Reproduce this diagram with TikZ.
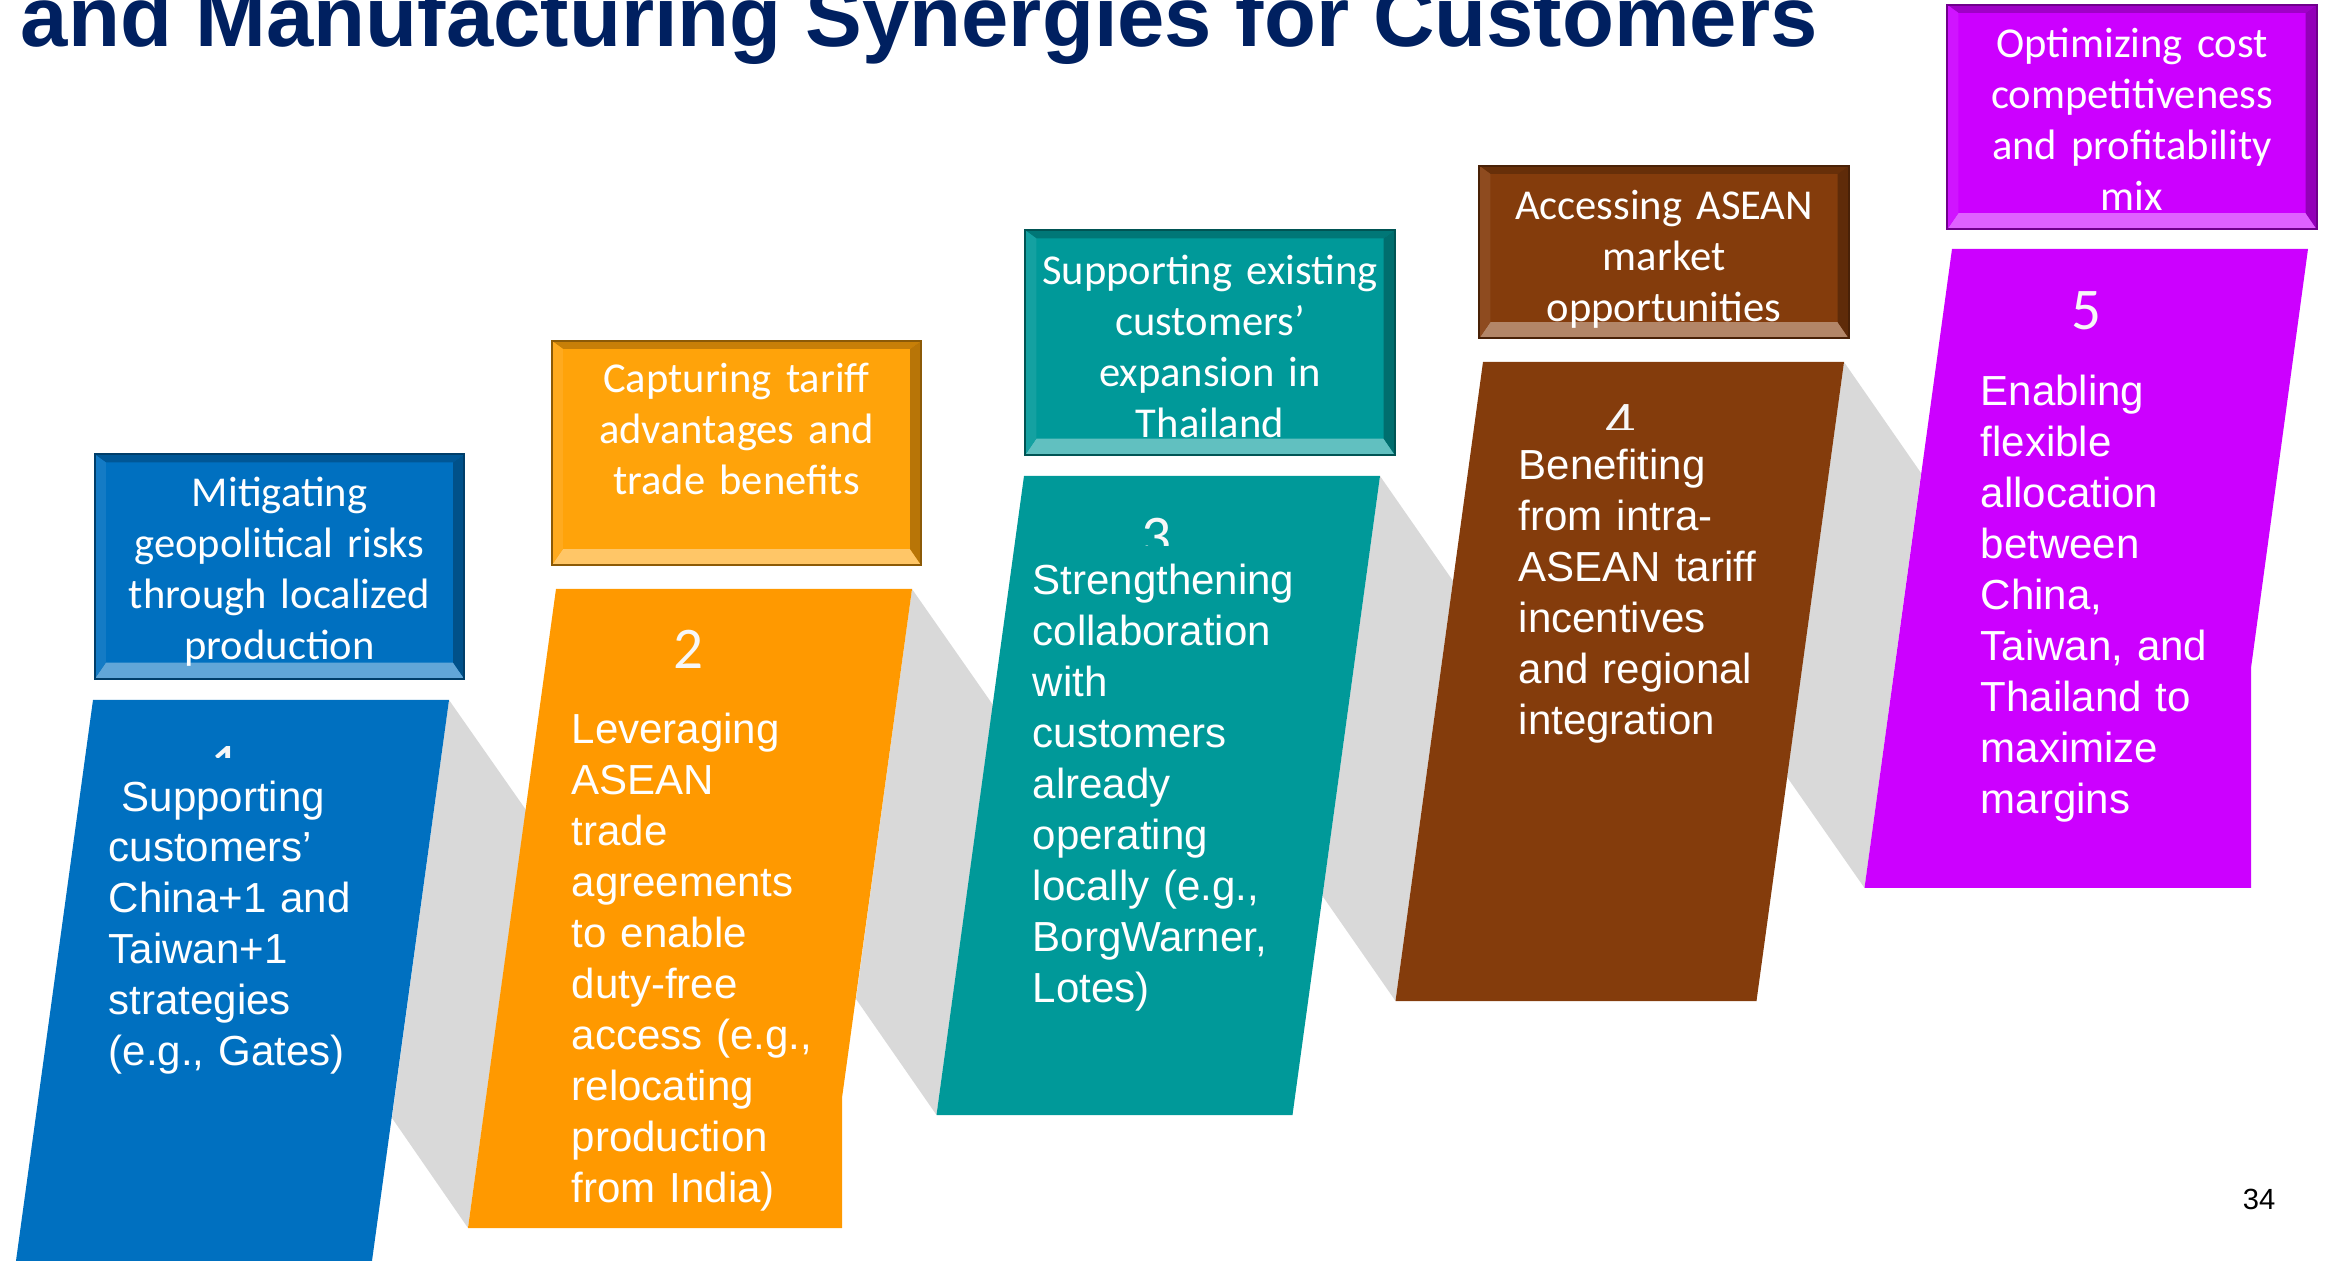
\documentclass[tikz,border=0pt]{standalone}
\usepackage{fontspec}
\setmainfont{Liberation Sans}
\newfontfamily\boxfont{Carlito}
\definecolor{stepblue}{HTML}{0070C0}
\definecolor{steporange}{HTML}{FF9900}
\definecolor{boxorange}{HTML}{FFA30A}
\definecolor{stepteal}{HTML}{009999}
\definecolor{stepbrown}{HTML}{843C0C}
\definecolor{stepmagenta}{HTML}{CC00FF}
\definecolor{ribbongray}{HTML}{D9D9D9}
\definecolor{titlenavy}{HTML}{002060}
\def\boxstrut#1{\rule{0pt}{#1}}
\tikzset{
	ribbon/.style={fill=ribbongray},
	bodytext/.style={anchor=base west, inner sep=0pt, text width=4cm, align=left, text=white, font=\fontsize{11.95pt}{14.5pt}\selectfont},
	stepnum/.style={inner sep=0pt, text=white!94!gray, font=\boxfont\fontsize{16.8pt}{20pt}\selectfont},
	topbox/.style={draw=#1!55!black, line width=0.6pt, fill=#1, inner sep=0pt,
		minimum width=3.69cm, minimum height=2.24cm, text width=3.5cm, align=center,
		text=white, font=\boxfont\fontsize{12.1pt}{14.5pt}\selectfont,
		path picture={
			\fill[#1!78!black] (path picture bounding box.north west) -- (path picture bounding box.north east)
				-- ([xshift=-0.11cm,yshift=-0.08cm]path picture bounding box.north east) -- ([xshift=0.11cm,yshift=-0.08cm]path picture bounding box.north west) -- cycle;
			\fill[#1!62!white] (path picture bounding box.south west) -- (path picture bounding box.south east)
				-- ([xshift=-0.11cm,yshift=0.16cm]path picture bounding box.south east) -- ([xshift=0.11cm,yshift=0.16cm]path picture bounding box.south west) -- cycle;
			\fill[#1!92!white] (path picture bounding box.north west) -- ([xshift=0.11cm,yshift=-0.08cm]path picture bounding box.north west)
				-- ([xshift=0.11cm,yshift=0.16cm]path picture bounding box.south west) -- (path picture bounding box.south west) -- cycle;
			\fill[#1!72!black] (path picture bounding box.north east) -- ([xshift=-0.11cm,yshift=-0.08cm]path picture bounding box.north east)
				-- ([xshift=-0.11cm,yshift=0.16cm]path picture bounding box.south east) -- (path picture bounding box.south east) -- cycle;
		}}
}

\begin{document}
\begin{tikzpicture}[x=0.01cm, y=-0.01cm]
	\useasboundingbox (0,0) rectangle (2326,1261);
	\clip (0,0) rectangle (2326,1261);

	\node[anchor=base west, inner sep=0pt, text=titlenavy, font=\bfseries\fontsize{24.2pt}{29pt}\selectfont] (title) at (20,47) {and Manufacturing Synergies for Customers};

	\fill[ribbon] (449,700) -- (526,810) -- (468,1228) -- (392,1118) -- cycle;
	\fill[ribbon] (912,589) -- (993,705) -- (936.5,1115) -- (856,999) -- cycle;
	\fill[ribbon] (1380,476) -- (1453,581) -- (1395.5,1001) -- (1322.5,896) -- cycle;
	\fill[ribbon] (1844,362) -- (1921,473) -- (1864.5,888) -- (1787,777) -- cycle;

	\fill[stepblue] (93,700) -- (449,700) -- (361,1341) -- (5,1341) -- cycle;
	\fill[steporange] (556,589) -- (912,589) -- (842,1098) -- (842,1228) -- (468,1228) -- cycle;
	\fill[stepteal] (1024,476) -- (1380,476) -- (1292.5,1115) -- (936.5,1115) -- cycle;
	\fill[stepbrown] (1483,362) -- (1844,362) -- (1756.5,1001) -- (1395.5,1001) -- cycle;
	\fill[stepmagenta] (1952,249) -- (2308,249) -- (2251,668) -- (2251,888) -- (1864.5,888) -- cycle;

	\node[topbox=stepblue] (goal1) at (279.5,566.5) {\boxstrut{0.39cm}Mitigating\\geopolitical risks\\through localized\\production};
	\node[topbox=boxorange] (goal2) at (736.5,453) {\boxstrut{0.32cm}Capturing tariff\\advantages and\\trade benefits\\\mbox{}};
	\node[topbox=stepteal] (goal3) at (1210,342.5) {\boxstrut{0.37cm}Supporting existing\\customers’\\expansion in\\Thailand};
	\node[topbox=stepbrown, minimum height=1.72cm] (goal4) at (1664,252) {\boxstrut{0.43cm}Accessing ASEAN\\market\\opportunities};
	\node[topbox=stepmagenta] (goal5) at (2132,117) {\boxstrut{0.34cm}Optimizing cost\\competitiveness\\and profitability\\mix};

	\begin{scope}
		\clip (150,700) rectangle (300,758);
		\node[stepnum] (num1) at (225,765) {1};
	\end{scope}
	\node[stepnum] (num2) at (688,649) {2};
	\begin{scope}
		\clip (1080,476) rectangle (1230,546);
		\node[stepnum] (num3) at (1156,538) {3};
	\end{scope}
	\begin{scope}
		\clip (1540,362) rectangle (1700,430);
		\node[stepnum] (num4) at (1620,424) {4};
	\end{scope}
	\node[stepnum] (num5) at (2086,311) {5};

	\node[bodytext] (step1) at (108,811) {\hspace*{0.13cm}Supporting\\customers’\\China+1 and\\Taiwan+1\\strategies\\(e.g., Gates)};
	\node[bodytext] (step2) at (571,744) {Leveraging\\ASEAN\\trade\\agreements\\to enable\\duty-free\\access (e.g.,\\relocating\\production\\from India)};
	\node[bodytext] (step3) at (1032,595) {Strengthening\\collaboration\\with\\customers\\already\\operating\\locally (e.g.,\\BorgWarner,\\Lotes)};
	\node[bodytext] (step4) at (1518,480) {Benefiting\\from intra-\\ASEAN tariff\\incentives\\and regional\\integration};
	\node[bodytext] (step5) at (1980,406) {Enabling\\flexible\\allocation\\between\\China,\\Taiwan, and\\Thailand to\\maximize\\margins};

	\node[inner sep=0pt, font=\fontsize{8.3pt}{10pt}\selectfont] (pagenum) at (2259,1199) {34};
\end{tikzpicture}
\end{document}
